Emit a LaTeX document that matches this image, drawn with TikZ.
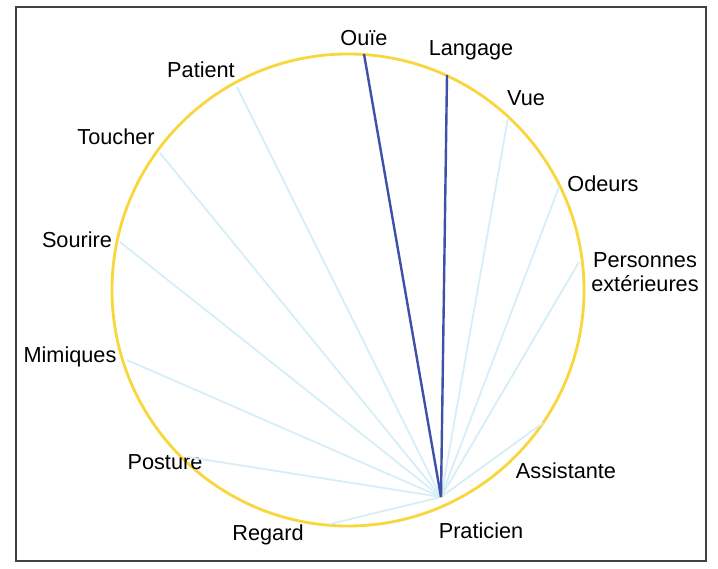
\documentclass[tikz,border=0pt]{standalone}
\usepackage{fontspec}
\setmainfont{Liberation Sans}
\usetikzlibrary{positioning}
\definecolor{ringyellow}{RGB}{249,214,60}
\definecolor{lightcyan}{RGB}{214,238,247}
\definecolor{darkblue}{RGB}{62,80,168}
\tikzset{
    lbl/.style = {inner sep=0pt, font=\fontsize{21.7}{26}\selectfont},
    ring/.style = {draw=ringyellow, line width=2.8pt},
    frame/.style = {draw=black!75, line width=1.3pt},
    edgel/.style = {lightcyan, line width=1.8pt}, % weak channels
    edged/.style = {darkblue, line width=2.4pt}, % main channels
}

\begin{document}
\begin{tikzpicture}[x=1pt,y=-1pt]
\useasboundingbox (0,0) rectangle (718,568);
\draw[frame] (16,7) rectangle (706,561);
\coordinate (c) at (348,290);
\draw[ring] (c) circle[radius=236pt];
%
\coordinate (p) at (441,497);
\coordinate (patient-p) at (237,87);
\coordinate (toucher-p) at (160,153);
\coordinate (sourire-p) at (120,242);
\coordinate (mimiques-p) at (127,360);
\coordinate (posture-p) at (188,457);
\coordinate (regard-p) at (330,524);
\coordinate (assistante-p) at (543,423);
\coordinate (personnes-p) at (579,262);
\coordinate (odeurs-p) at (559,187);
\coordinate (vue-p) at (508,118);
\coordinate (langage-p) at (447,75);
\coordinate (ouie-p) at (364,54);
%
\node[lbl] at (364,38) (ouie) {Ouïe};
\node[lbl] at (471,50) (langage) {Langage};
\node[lbl] at (526,98) (vue) {Vue};
\node[lbl] at (603,184) (odeurs) {Odeurs};
\node[lbl, align=center] at (645,272) (personnes) {Personnes\\[-2pt]extérieures};
\node[lbl] at (566,471) (assistante) {Assistante};
\node[lbl] at (481,531) (praticien) {Praticien};
\node[lbl] at (268,535) (regard) {Regard};
\node[lbl] at (165,462) (posture) {Posture};
\node[lbl] at (70,357) (mimiques) {Mimiques};
\node[lbl] at (77,240) (sourire) {Sourire};
\node[lbl] at (116,137) (toucher) {Toucher};
\node[lbl] at (201,70) (patient) {Patient};
%
\foreach \t in {patient,toucher,sourire,mimiques,posture,regard,assistante,personnes,odeurs,vue}
    \draw[edgel] (p) -- (\t-p);
\draw[edged] (p) -- (ouie-p);
\draw[edged] (p) -- (langage-p);

\end{tikzpicture}
\end{document}
